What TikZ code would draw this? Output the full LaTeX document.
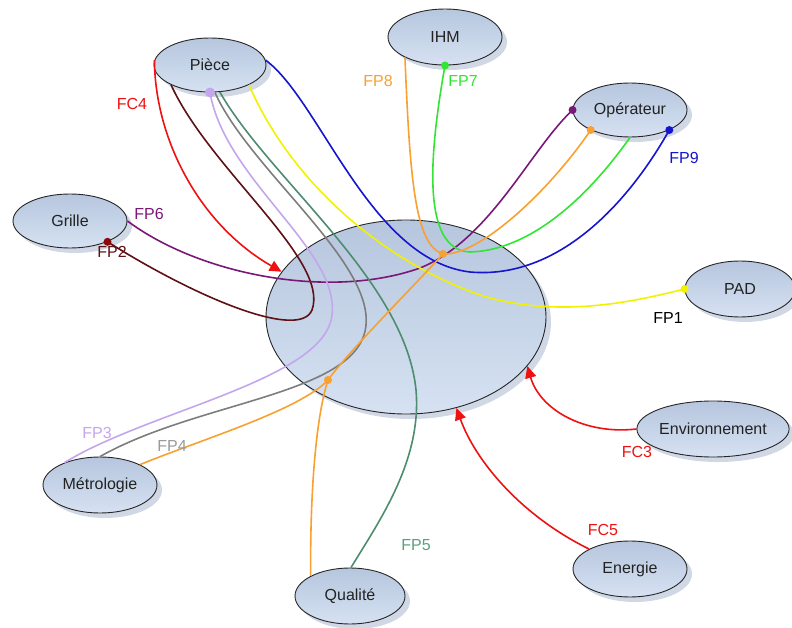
\documentclass[tikz,border=0pt]{standalone}
\usepackage{fontspec}
\setmainfont{Liberation Sans}
\usetikzlibrary{shapes.geometric,arrows.meta,shadows}
\definecolor{cfc}{HTML}{EE1111}
\definecolor{cmaroon}{HTML}{5E1014}
\definecolor{cmaroondot}{HTML}{8A0A0A}
\definecolor{cpurple}{HTML}{7A1878}
\definecolor{clav}{HTML}{C4A6EC}
\definecolor{cgray}{HTML}{7D7D7D}
\definecolor{cgraylab}{HTML}{9A9A9A}
\definecolor{cteal}{HTML}{4D8C6E}
\definecolor{ctealab}{HTML}{5C9E80}
\definecolor{cyel}{HTML}{F2F200}
\definecolor{cblue}{HTML}{1515D0}
\definecolor{corange}{HTML}{F8A030}
\definecolor{cgreen}{HTML}{33E533}
\definecolor{ctop}{RGB}{182,198,222}
\definecolor{cbot}{RGB}{214,226,242}
\definecolor{cshadow}{RGB}{196,206,222}
\definecolor{ctext}{HTML}{222222}
\begin{document}
\begin{tikzpicture}[x=1pt,y=-1pt,
  bub/.style={ellipse, draw=black!85, line width=0.9pt, inner sep=0pt,
    top color=ctop, bottom color=cbot, text=ctext,
    drop shadow={shadow xshift=5pt, shadow yshift=-5pt, fill=cshadow, opacity=0.8},
    font=\fontsize{16}{19}\selectfont},
  link/.style={line width=1.6pt},
  dotm/.style={circle, inner sep=0pt, minimum size=8pt},
  lab/.style={font=\fontsize{16}{19}\selectfont, inner sep=0pt},
  fcarrow/.style={link, draw=cfc, -{Triangle[length=12pt,width=11pt]}}
]
\useasboundingbox (0,0) rectangle (792,628);

% ellipses
\node[bub, minimum width=280pt, minimum height=194pt] (sys) at (406,317) {};
\node[bub, minimum width=112pt, minimum height=54pt] (piece) at (210,65) {Pièce};
\node[bub, minimum width=114pt, minimum height=54pt] (grille) at (70,221) {Grille};
\node[bub, minimum width=114pt, minimum height=56pt] (ihm) at (445,37) {IHM};
\node[bub, minimum width=114pt, minimum height=54pt] (oper) at (630,110) {Opérateur};
\node[bub, minimum width=110pt, minimum height=56pt] (pad) at (740,289) {PAD};
\node[bub, minimum width=114pt, minimum height=56pt] (env) at (713,429) {Environnement};
\node[bub, minimum width=114pt, minimum height=56pt] (energie) at (630,569) {Energie};
\node[bub, minimum width=114pt, minimum height=56pt] (metro) at (100,485) {Métrologie};
\node[bub, minimum width=110pt, minimum height=56pt] (qual) at (350,596) {Qualité};

\coordinate (j1) at (443,254);
\coordinate (j2) at (328,380);

% FC arrows
\draw[fcarrow] (piece.175) .. controls (155,140) and (200,225) .. (sys.160);
\draw[fcarrow] (env.west) .. controls (585,435) and (540,410) .. (sys.338);
\draw[fcarrow] (energie.154) .. controls (520,515) and (475,460) .. (sys.299);

% FP2 maroon
\draw[link, cmaroon] (piece.207) .. controls (210,170) and (330,260) .. (312,310)
  .. controls (300,340) and (200,300) .. (grille.331);
% FP6 purple
\draw[link, cpurple] (grille.east) .. controls (200,275) and (330,300) .. (420,268)
  .. controls (490,240) and (530,150) .. (oper.west);
% FP3 lavender
\draw[link, clav] (piece.south) .. controls (225,180) and (340,250) .. (332,315)
  .. controls (325,380) and (150,410) .. (metro.148);
% FP4 gray
\draw[link, cgray] (piece.280) .. controls (250,170) and (372,260) .. (366,325)
  .. controls (360,395) and (200,400) .. (metro.north);
% FP5 teal
\draw[link, cteal] (piece.290) .. controls (270,180) and (405,280) .. (416,390)
  .. controls (422,460) and (380,520) .. (qual.88);
% FP1 yellow
\draw[link, cyel] (piece.333) .. controls (290,180) and (380,260) .. (480,295)
  .. controls (560,320) and (640,300) .. (pad.west);
% FP9 blue
\draw[link, cblue] (piece.5) .. controls (320,100) and (370,260) .. (470,272)
  .. controls (560,280) and (630,200) .. (oper.333);
% FP7 green
\draw[link, cgreen] (ihm.south) .. controls (430,150) and (420,250) .. (470,252)
  .. controls (540,250) and (600,180) .. (oper.south);
% FP8 orange
\draw[link, corange] (ihm.207) .. controls (410,180) and (415,245) .. (j1);
\draw[link, corange] (j1) .. controls (480,256) and (550,190) .. (oper.207);
\draw[link, corange] (j1) .. controls (410,290) and (350,350) .. (j2);
\draw[link, corange] (j2) .. controls (300,410) and (200,440) .. (metro.27);
\draw[link, corange] (j2) .. controls (315,420) and (310,500) .. (qual.153);

% dots
\node[dotm, fill=clav, minimum size=10pt] (dpiece) at (piece.south) {};
\node[dotm, fill=cmaroondot] (dgrille) at (grille.331) {};
\node[dotm, fill=cgreen] (dihm) at (ihm.south) {};
\node[dotm, fill=cpurple] (dop1) at (oper.west) {};
\node[dotm, fill=corange] (dop2) at (oper.207) {};
\node[dotm, fill=cblue] (dop3) at (oper.333) {};
\node[dotm, fill=cyel] (dpad) at (pad.west) {};
\node[dotm, fill=corange] (dj1) at (j1) {};
\node[dotm, fill=corange] (dj2) at (j2) {};

% labels
\node[lab, text=cfc] (lfc4) at (132,104) {FC4};
\node[lab, text=cpurple] (lfp6) at (149,214) {FP6};
\node[lab, text=cmaroon] (lfp2) at (112,252) {FP2};
\node[lab, text=corange] (lfp8) at (378,81) {FP8};
\node[lab, text=cgreen] (lfp7) at (463,81) {FP7};
\node[lab, text=cblue] (lfp9) at (684,158) {FP9};
\node[lab, text=black] (lfp1) at (668,318) {FP1};
\node[lab, text=cfc] (lfc3) at (637,452) {FC3};
\node[lab, text=cfc] (lfc5) at (603,530) {FC5};
\node[lab, text=ctealab] (lfp5) at (416,545) {FP5};
\node[lab, text=cgraylab] (lfp4) at (172,446) {FP4};
\node[lab, text=clav] (lfp3) at (97,433) {FP3};
\end{tikzpicture}
\end{document}
